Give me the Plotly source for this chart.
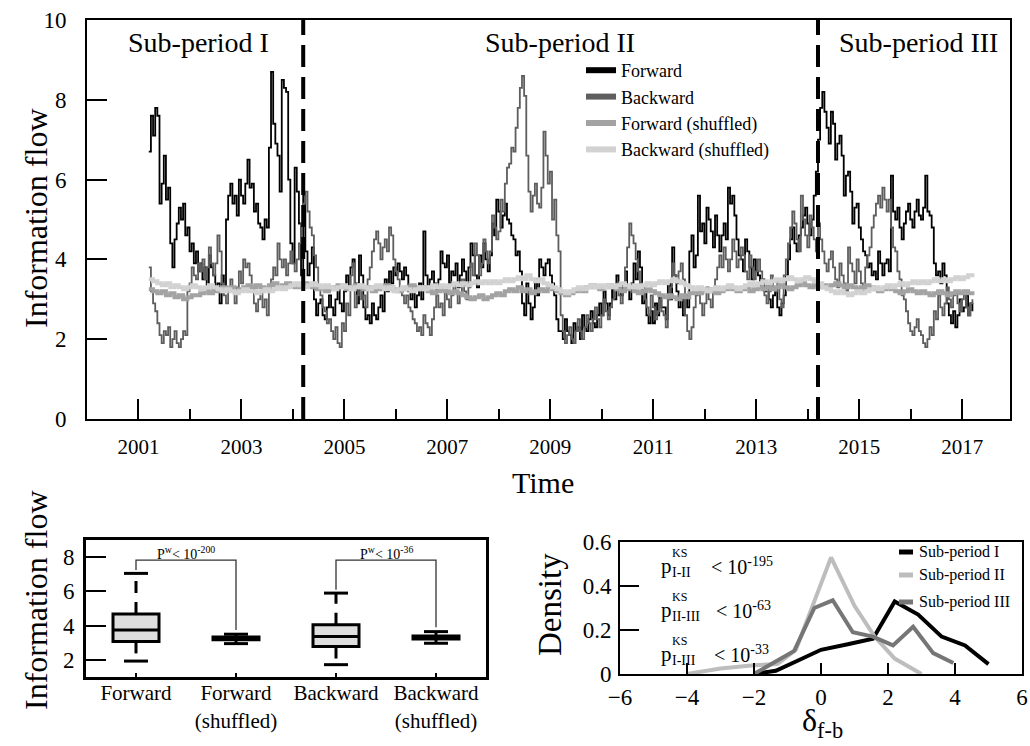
import plotly.graph_objects as go

W, H = 1030, 746
FONT = "Liberation Serif"

# ---------------- information flow, half-monthly from March 2001 ----------------
START_YEAR = 2001.2
STEP = 1 / 24

forward = [
    6.7, 7.6, 7.1, 7.8, 7.6, 5.4, 5.9, 6.6, 5.5, 5.8, 4.4, 3.8,
    4.5, 4.9, 5.3, 5.0, 5.4, 4.6, 4.8, 4.2, 4.4, 3.9, 4.2, 3.7,
    3.9, 3.5, 3.8, 3.3, 4.1, 3.8, 3.6, 3.2, 3.4, 2.9, 3.6, 3.3,
    5.0, 5.6, 5.9, 5.4, 5.6, 5.1, 6.0, 5.6, 5.4, 5.9, 6.5, 5.8,
    5.9, 5.2, 5.4, 4.9, 4.8, 4.5, 5.0, 4.8, 6.8, 8.7, 7.4, 6.9,
    6.6, 5.7, 8.5, 8.3, 8.2, 6.0, 4.4, 3.9, 6.3, 5.7, 4.9, 3.6,
    5.6, 4.2, 3.6, 3.9, 4.3, 3.0, 2.6, 2.9, 3.0, 2.6, 2.5, 2.8,
    3.1, 2.8, 2.6, 3.0, 3.3, 2.9, 2.7, 3.2, 3.6, 3.3, 3.8, 4.0,
    3.4, 2.9, 4.1, 3.6, 2.8, 2.5, 2.6, 2.4, 2.9, 2.6, 2.5, 2.8,
    3.1, 2.7, 3.5, 3.2, 3.7, 3.4, 3.8, 3.6, 3.9, 3.7, 3.5, 3.8,
    3.6, 3.2, 3.0, 3.3, 2.8, 3.1, 3.4, 3.0, 4.7, 3.6, 3.3, 3.5,
    3.7, 3.4, 3.2, 3.5, 4.2, 3.9, 3.8, 4.1, 3.4, 3.7, 3.6, 3.9,
    3.3, 3.6, 4.0, 3.7, 3.4, 3.8, 4.4, 4.1, 3.6, 3.3, 4.1, 3.8,
    4.4, 4.0, 3.7, 4.1, 4.9, 4.6, 5.5, 5.2, 4.8, 5.1, 5.4, 5.0,
    4.9, 4.6, 4.5, 4.1, 4.2, 3.7, 2.9, 2.6, 3.4, 2.9, 2.5, 2.8,
    3.5, 3.1, 4.0, 3.8, 3.6, 3.9, 4.0, 3.6, 3.4, 3.1, 2.5, 2.2,
    2.2, 2.0, 2.5, 2.2, 2.1, 1.9, 2.4, 2.2, 2.3, 2.0, 2.6, 2.3,
    2.2, 2.5, 2.7, 2.4, 2.3, 2.6, 2.9, 2.6, 3.2, 2.9, 2.6, 2.9,
    3.3, 3.0, 3.6, 3.3, 3.1, 3.4, 3.7, 3.3, 3.0, 3.4, 3.9, 3.5,
    4.2, 3.8, 2.9, 3.2, 2.6, 2.4, 2.7, 2.4, 2.9, 2.6, 3.1, 2.8,
    2.8, 2.5, 3.4, 3.0, 4.3, 3.6, 3.2, 2.8, 3.0, 2.6, 3.1, 2.8,
    4.2, 4.6, 3.8, 4.1, 5.6, 4.7, 4.9, 4.4, 5.3, 5.0, 4.7, 4.3,
    5.1, 4.6, 4.2, 4.6, 4.9, 4.5, 5.8, 5.4, 5.6, 5.1, 4.5, 4.1,
    4.0, 3.7, 4.5, 4.2, 3.8, 3.5, 4.0, 3.7, 3.6, 3.3, 3.5, 3.2,
    3.4, 3.0, 2.8, 3.1, 3.2, 2.8, 2.6, 2.9, 3.1, 3.6, 4.0, 4.5,
    4.8, 4.4, 4.2, 4.6, 4.8, 5.1, 5.3, 4.9, 4.6, 5.0, 5.6, 6.2,
    7.0, 7.8, 8.2, 7.7, 7.3, 6.9, 7.7, 7.4, 6.5, 6.9, 7.1, 6.6,
    5.6, 6.1, 6.2, 5.7, 4.9, 5.3, 5.4, 4.8, 4.5, 4.2, 4.1, 3.8,
    3.9, 3.6, 3.7, 3.5, 4.2, 3.9, 3.6, 3.9, 4.0, 3.7, 6.1, 5.2,
    5.0, 5.3, 4.8, 4.5, 4.9, 5.2, 5.4, 5.0, 4.8, 5.2, 5.5, 5.1,
    5.0, 5.3, 6.1, 5.2, 5.1, 4.8, 3.9, 3.6, 3.7, 3.4, 3.9, 3.6,
    2.9, 2.6, 2.4, 2.7, 2.3, 2.6, 3.0, 2.7, 2.8, 3.1, 2.6, 2.9, 2.7,
]

backward = [
    3.8, 3.2, 2.9, 2.7, 2.4, 2.1, 1.9, 2.2, 2.1, 2.3, 1.8, 2.0,
    2.2, 1.9, 1.8, 2.0, 2.2, 2.1, 3.2, 3.4, 3.8, 3.6, 3.5, 3.9,
    3.7, 4.0, 3.5, 3.8, 4.3, 3.9, 3.6, 3.9, 4.6, 4.2, 3.4, 3.1,
    2.9, 3.2, 3.5, 3.2, 2.9, 3.3, 3.7, 3.4, 4.0, 3.8, 3.9, 3.6,
    3.3, 2.9, 2.7, 3.0, 3.2, 2.8, 3.0, 2.6, 3.2, 3.5, 3.8, 3.6,
    4.4, 4.0, 3.8, 4.0, 3.6, 3.9, 4.2, 3.9, 3.7, 4.0, 4.4, 4.9,
    5.4, 5.7, 5.2, 4.8, 4.6, 4.1, 3.8, 3.3, 3.1, 2.8, 2.7, 2.4,
    2.5, 2.2, 2.0, 2.3, 1.9, 1.8, 2.4, 2.2, 2.9, 2.6, 3.6, 3.9,
    2.8, 3.1, 3.3, 3.0, 3.1, 2.8, 3.5, 3.8, 4.2, 4.5, 4.7, 4.4,
    4.0, 4.3, 4.5, 4.2, 4.8, 4.6, 4.0, 3.7, 3.5, 3.2, 3.1, 2.9,
    3.1, 2.8, 2.7, 2.5, 2.4, 2.2, 2.3, 2.1, 2.6, 2.4, 2.3, 2.1,
    2.5, 2.8, 3.1, 2.8, 2.9, 2.6, 3.3, 3.0, 2.8, 3.1, 3.4, 3.2,
    2.9, 3.1, 3.5, 3.2, 3.0, 3.3, 3.9, 3.6, 4.4, 4.1, 3.6, 3.9,
    4.5, 4.2, 3.9, 4.2, 5.1, 4.8, 4.5, 4.7, 5.5, 5.2, 5.9, 6.3,
    6.4, 6.8, 6.7, 7.3, 7.8, 8.3, 8.6, 8.1, 6.6, 5.7, 5.2, 5.6,
    5.9, 5.4, 5.3, 5.8, 7.2, 6.6, 5.9, 6.2, 5.0, 5.5, 4.6, 4.2,
    2.6, 2.2, 1.9, 2.1, 2.3, 2.0, 1.9, 2.2, 2.5, 2.2, 2.0, 2.3,
    2.6, 2.4, 2.2, 2.5, 2.8, 2.5, 2.3, 2.6, 3.0, 2.7, 2.5, 2.8,
    3.0, 3.3, 3.4, 3.1, 2.9, 3.2, 3.8, 4.3, 4.9, 4.6, 4.4, 4.0,
    3.7, 3.4, 3.3, 3.0, 2.8, 2.6, 3.1, 2.8, 2.5, 2.7, 3.0, 2.7,
    2.6, 2.3, 3.0, 3.3, 3.9, 3.6, 3.4, 3.7, 3.9, 3.5, 2.6, 2.2,
    2.0, 2.3, 2.8, 3.1, 3.2, 2.9, 2.6, 2.9, 3.3, 3.0, 2.8, 3.2,
    3.5, 3.8, 4.1, 3.8, 4.3, 4.0, 3.7, 4.0, 4.5, 4.2, 3.8, 4.0,
    4.3, 4.1, 3.7, 3.5, 4.1, 3.8, 3.5, 3.7, 4.0, 3.7, 3.3, 3.1,
    2.9, 3.2, 3.6, 3.3, 3.2, 3.5, 3.0, 2.8, 3.6, 4.0, 4.4, 4.8,
    5.2, 4.9, 4.5, 4.2, 5.6, 5.0, 4.6, 4.3, 5.1, 4.8, 4.5, 4.2,
    4.9, 4.5, 4.2, 3.9, 3.7, 4.0, 4.2, 3.8, 3.5, 3.3, 3.9, 3.6,
    3.4, 3.2, 4.3, 3.9, 3.7, 3.4, 4.0, 3.7, 3.4, 3.2, 3.8, 4.1,
    4.3, 4.8, 5.1, 5.4, 5.6, 5.3, 5.8, 5.5, 5.2, 5.5, 4.8, 4.3,
    4.2, 3.7, 3.5, 3.1, 3.0, 2.7, 2.4, 2.2, 2.1, 2.3, 2.5, 2.2,
    2.1, 1.9, 1.8, 2.0, 2.3, 2.1, 2.7, 2.5, 3.1, 2.8, 2.6, 2.9,
    3.3, 3.0, 2.8, 3.1, 3.2, 2.9, 2.7, 3.0, 3.1, 2.8, 2.6, 2.9, 3.0,
]

# shuffled surrogates, monthly
SHUF_STEP = 1 / 12

forward_shuffled = [
    3.25, 3.2, 3.15, 3.2, 3.1, 3.15, 3.05, 3.1, 3.0, 3.05, 3.1, 3.1,
    3.15, 3.2, 3.15, 3.25, 3.2, 3.3, 3.25, 3.3, 3.2, 3.25, 3.3, 3.35,
    3.3, 3.35, 3.3, 3.25, 3.35, 3.4, 3.3, 3.35, 3.4, 3.35, 3.3, 3.35,
    3.4, 3.35, 3.3, 3.25, 3.3, 3.2, 3.25, 3.3, 3.35, 3.3, 3.25, 3.3,
    3.35, 3.3, 3.25, 3.3, 3.2, 3.25, 3.3, 3.35, 3.3, 3.25, 3.2, 3.25,
    3.3, 3.35, 3.3, 3.25, 3.3, 3.2, 3.15, 3.2, 3.25, 3.2, 3.15, 3.2,
    3.15, 3.1, 3.05, 3.0, 3.05, 3.1, 3.0, 3.05, 3.1, 3.15, 3.1, 3.2,
    3.25, 3.2, 3.3, 3.2, 3.25, 3.15, 3.2, 3.25, 3.2, 3.3, 3.25, 3.2,
    3.15, 3.1, 3.15, 3.2, 3.25, 3.2, 3.3, 3.35, 3.3, 3.25, 3.3, 3.35,
    3.3, 3.25, 3.2, 3.25, 3.3, 3.2, 3.15, 3.2, 3.25, 3.2, 3.15, 3.1,
    3.05, 3.1, 3.05, 3.0, 3.1, 3.05, 3.15, 3.2, 3.15, 3.2, 3.25, 3.2,
    3.15, 3.2, 3.25, 3.3, 3.25, 3.2, 3.25, 3.3, 3.2, 3.25, 3.3, 3.25,
    3.3, 3.25, 3.3, 3.35, 3.3, 3.25, 3.3, 3.35, 3.4, 3.35, 3.3, 3.35,
    3.3, 3.35, 3.3, 3.35, 3.4, 3.35, 3.3, 3.35, 3.3, 3.25, 3.3, 3.35,
    3.3, 3.25, 3.2, 3.25, 3.3, 3.25, 3.2, 3.15, 3.2, 3.25, 3.2, 3.15,
    3.2, 3.15, 3.1, 3.15, 3.2, 3.15, 3.1, 3.15, 3.2, 3.15, 3.2, 3.15, 3.2,
]

backward_shuffled = [
    3.5, 3.45, 3.4, 3.35, 3.4, 3.3, 3.35, 3.3, 3.25, 3.3, 3.35, 3.3,
    3.25, 3.3, 3.35, 3.3, 3.25, 3.2, 3.25, 3.2, 3.15, 3.2, 3.25, 3.2,
    3.2, 3.15, 3.2, 3.25, 3.2, 3.25, 3.3, 3.25, 3.3, 3.35, 3.4, 3.35,
    3.3, 3.35, 3.4, 3.35, 3.3, 3.35, 3.3, 3.25, 3.3, 3.35, 3.3, 3.25,
    3.3, 3.35, 3.3, 3.25, 3.3, 3.35, 3.3, 3.25, 3.3, 3.2, 3.25, 3.3,
    3.25, 3.2, 3.25, 3.3, 3.25, 3.3, 3.35, 3.3, 3.35, 3.3, 3.35, 3.4,
    3.35, 3.4, 3.35, 3.4, 3.45, 3.4, 3.45, 3.4, 3.45, 3.4, 3.45, 3.5,
    3.45, 3.5, 3.55, 3.5, 3.6, 3.5, 3.45, 3.5, 3.4, 3.35, 3.3, 3.25,
    3.2, 3.15, 3.2, 3.25, 3.3, 3.25, 3.3, 3.35, 3.3, 3.35, 3.3, 3.35,
    3.3, 3.35, 3.4, 3.35, 3.3, 3.35, 3.3, 3.35, 3.4, 3.35, 3.4, 3.45,
    3.4, 3.45, 3.5, 3.45, 3.4, 3.35, 3.3, 3.25, 3.3, 3.25, 3.2, 3.25,
    3.3, 3.25, 3.3, 3.35, 3.3, 3.25, 3.3, 3.35, 3.4, 3.35, 3.4, 3.45,
    3.4, 3.45, 3.5, 3.45, 3.5, 3.55, 3.5, 3.45, 3.5, 3.55, 3.5, 3.45,
    3.4, 3.3, 3.25, 3.2, 3.15, 3.2, 3.15, 3.1, 3.15, 3.2, 3.15, 3.2,
    3.25, 3.3, 3.25, 3.3, 3.35, 3.3, 3.35, 3.4, 3.35, 3.4, 3.45, 3.4,
    3.45, 3.4, 3.45, 3.5, 3.45, 3.5, 3.45, 3.5, 3.55, 3.5, 3.55, 3.6, 3.55,
]

series_names = ["Forward", "Backward", "Forward (shuffled)", "Backward (shuffled)"]
series_values = [forward, backward, forward_shuffled, backward_shuffled]
series_steps = [STEP, STEP, SHUF_STEP, SHUF_STEP]
series_colors = ["#000000", "#5e5e5e", "#a3a3a3", "#d2d2d2"]
series_widths = [1.8, 1.8, 4, 4]

period_breaks = [2004.2, 2014.2]
period_names = ["Sub-period I", "Sub-period II", "Sub-period III"]

# ---------------- box-plot summary ----------------
box_labels = ["Forward", "Forward<br>(shuffled)", "Backward", "Backward<br>(shuffled)"]
box_low = [1.93, 2.95, 1.72, 2.97]
box_q1 = [3.08, 3.17, 2.78, 3.22]
box_median = [3.75, 3.25, 3.36, 3.32]
box_q3 = [4.68, 3.33, 4.05, 3.40]
box_high = [7.05, 3.50, 5.90, 3.65]
wilcoxon_pairs = [(0, 1, "-200"), (2, 3, "-36")]

# ---------------- densities of forward-backward difference ----------------
dens_x = {
    "Sub-period I": [-2.0, -1.35, -0.7, 0.0, 0.8, 1.55, 2.2, 2.9, 3.6, 4.3, 5.0],
    "Sub-period II": [-4.0, -3.0, -2.0, -1.3, -0.75, 0.3, 1.0, 1.6, 2.2, 3.0],
    "Sub-period III": [-2.0, -0.8, -0.2, 0.35, 0.95, 1.55, 2.15, 2.75, 3.35, 3.95],
}
dens_y = {
    "Sub-period I": [0.0, 0.015, 0.06, 0.11, 0.135, 0.16, 0.33, 0.27, 0.17, 0.13, 0.045],
    "Sub-period II": [0.0, 0.025, 0.04, 0.045, 0.11, 0.53, 0.31, 0.17, 0.07, 0.0],
    "Sub-period III": [0.0, 0.105, 0.30, 0.335, 0.19, 0.17, 0.13, 0.215, 0.095, 0.05],
}
dens_colors = {"Sub-period I": "#000000", "Sub-period II": "#bdbdbd", "Sub-period III": "#767676"}
ks_tests = [("I-II", "-195"), ("II-III", "-63"), ("I-III", "-33")]


def px(x):
    return x / W


def py(y):
    return 1 - y / H


def note(x, y, text, size, xanchor="center", yanchor="middle", angle=0):
    fig.add_annotation(x=px(x), y=py(y), xref="paper", yref="paper", text=text,
                       xanchor=xanchor, yanchor=yanchor, textangle=angle, showarrow=False,
                       font=dict(size=size, family=FONT, color="black"))


fig = go.Figure()

# time series (step lines)
for name, vals, step, col, lw in zip(series_names, series_values, series_steps, series_colors, series_widths):
    t = [START_YEAR + k * step for k in range(len(vals))]
    fig.add_trace(go.Scatter(x=t, y=vals, mode="lines", line=dict(color=col, width=lw, shape="hv"),
                             showlegend=False, xaxis="x", yaxis="y", hoverinfo="skip"))
# legend keys with thick sample lines
for name, col in zip(series_names, series_colors):
    fig.add_trace(go.Scatter(x=[None], y=[None], mode="lines", line=dict(color=col, width=6),
                             name=name, xaxis="x", yaxis="y"))

# box plot
positions = list(range(len(box_labels)))
fig.add_trace(go.Box(x=positions, q1=box_q1, median=box_median, q3=box_q3,
                     lowerfence=box_q1, upperfence=box_q3, width=0.46, whiskerwidth=0,
                     fillcolor="#dedede", line=dict(color="black", width=3),
                     boxpoints=False, showlegend=False, xaxis="x2", yaxis="y2"))
wx, wy, cx, cy = [], [], [], []
for i in positions:
    wx += [i, i, None, i, i, None]
    wy += [box_q3[i], box_high[i], None, box_q1[i], box_low[i], None]
    cx += [i - 0.12, i + 0.12, None, i - 0.12, i + 0.12, None]
    cy += [box_high[i], box_high[i], None, box_low[i], box_low[i], None]
fig.add_trace(go.Scatter(x=wx, y=wy, mode="lines", line=dict(color="black", width=3, dash="12px,9px"),
                         showlegend=False, xaxis="x2", yaxis="y2"))
fig.add_trace(go.Scatter(x=cx, y=cy, mode="lines", line=dict(color="black", width=3),
                         showlegend=False, xaxis="x2", yaxis="y2"))
bracket_top = 7.83
for a, b, expo in wilcoxon_pairs:
    fig.add_trace(go.Scatter(x=[a, a, b, b], y=[box_high[a] + 0.2, bracket_top, bracket_top, box_high[b] + 0.25],
                             mode="lines", line=dict(color="#333333", width=1.3),
                             showlegend=False, xaxis="x2", yaxis="y2"))
    fig.add_annotation(x=(a + b) / 2, y=bracket_top, xref="x2", yref="y2", xanchor="center",
                       yanchor="bottom", text="P<sup>w</sup>< 10<sup>%s</sup>" % expo, showarrow=False,
                       font=dict(size=14, family=FONT, color="black"), yshift=-4)

# densities
for name in dens_x:
    fig.add_trace(go.Scatter(x=dens_x[name], y=dens_y[name], mode="lines",
                             line=dict(color=dens_colors[name], width=4),
                             showlegend=False, xaxis="x3", yaxis="y3"))

axis_common = dict(showline=True, linecolor="black", mirror=True, showgrid=False, zeroline=False,
                   tickcolor="black", tickwidth=2, automargin=False)

fig.update_layout(
    template="none",
    width=W, height=H, margin=dict(l=0, r=0, t=0, b=0, pad=0, autoexpand=False),
    paper_bgcolor="white", plot_bgcolor="white",
    font=dict(family=FONT, color="black", size=20),
    showlegend=True,
    legend=dict(x=px(581), y=py(52), xanchor="left", yanchor="top", font=dict(size=18),
                bgcolor="rgba(0,0,0,0)", borderwidth=0, tracegroupgap=0),
    xaxis=dict(domain=[px(87), px(1010)], anchor="y", range=[2000, 2017.93],
               tickmode="linear", tick0=2001, dtick=2, ticks="inside", ticklen=20,
               minor=dict(ticks="inside", ticklen=10, tickwidth=2, tickcolor="black", dtick=1,
                          tick0=2000, showgrid=False),
               linewidth=2, tickfont=dict(size=21), ticklabelstandoff=8, **axis_common),
    yaxis=dict(domain=[py(419), py(20)], anchor="x", range=[0, 10], tickvals=[0, 2, 4, 6, 8, 10],
               ticks="inside", ticklen=20, linewidth=2, tickfont=dict(size=23), ticklabelstandoff=14,
               **axis_common),
    xaxis2=dict(domain=[px(86), px(486)], anchor="y2", range=[-0.5, 3.5], tickvals=positions,
                ticktext=box_labels, ticks="inside", ticklen=4, linewidth=3,
                tickfont=dict(size=21), ticklabelstandoff=-5, **axis_common),
    yaxis2=dict(domain=[py(677), py(540)], anchor="x2", range=[1, 9], tickvals=[2, 4, 6, 8],
                ticks="inside", ticklen=20, linewidth=3, tickfont=dict(size=23), ticklabelstandoff=4,
                **axis_common),
    xaxis3=dict(domain=[px(620), px(1022)], anchor="y3", range=[-6, 6], tickvals=[-6, -4, -2, 0, 2, 4, 6],
                ticks="inside", ticklen=11, linewidth=2, tickfont=dict(size=23), ticklabelstandoff=1,
                **axis_common),
    yaxis3=dict(domain=[py(674), py(542)], anchor="x3", range=[0, 0.6], tickvals=[0, 0.2, 0.4, 0.6],
                ticktext=["0", "0.2", "0.4", "0.6"], ticks="inside", ticklen=19, linewidth=2,
                tickfont=dict(size=23), ticklabelstandoff=2, **axis_common),
)

# sub-period boundaries
for xb in period_breaks:
    fig.add_shape(type="line", xref="x", yref="y", x0=xb, x1=xb, y0=0, y1=10,
                  line=dict(color="black", width=4, dash="22px,10px"))

# sub-period labels
for name, xc in zip(period_names, [198, 560, 918]):
    note(xc, 42, name, 28)

# axis titles
note(36, 218, "Information flow", 32, angle=-90)
note(543, 482, "Time", 30)
note(36, 600, "Information flow", 32, angle=-90)
note(550, 605, "Density", 33, angle=-90)
note(822, 722, "δ<sub>f-b</sub>", 32)

# KS test labels: p with stacked KS / pair indices, then the bound
for (pair, expo), yc in zip(ks_tests, [566, 610, 654]):
    note(659, yc, "p", 21, xanchor="left")
    note(670, yc - 13, "KS", 12, xanchor="left")
    note(670, yc + 6, pair, 14, xanchor="left")
    note(699 + 2.5 * len(pair), yc, "< 10<sup>%s</sup>" % expo, 20, xanchor="left")

# density legend
for name, yc in zip(dens_x, [552, 575, 602]):
    fig.add_shape(type="line", xref="paper", yref="paper", x0=px(899), x1=px(913), y0=py(yc), y1=py(yc),
                  line=dict(color=dens_colors[name], width=5))
    note(917, yc, name, 16, xanchor="left")

fig.write_html("out.html")
